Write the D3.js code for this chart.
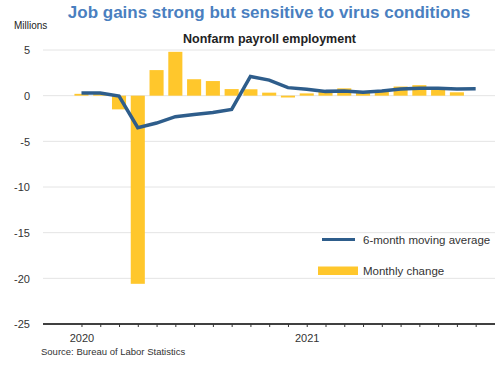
<!DOCTYPE html>
<html>
<head>
<meta charset="utf-8">
<script src="https://cdn.jsdelivr.net/npm/d3@7"></script>
<style>
  html, body { margin: 0; padding: 0; background: #fff; }
  svg { display: block; font-family: "Liberation Sans", Arial, sans-serif; }
</style>
</head>
<body>
<svg id="chart" width="500" height="365"></svg>
<script>
// ---- Data ----
const months = ["2020-01","2020-02","2020-03","2020-04","2020-05","2020-06","2020-07","2020-08","2020-09","2020-10","2020-11","2020-12",
                "2021-01","2021-02","2021-03","2021-04","2021-05","2021-06","2021-07","2021-08","2021-09","2021-10"];
// Monthly change in nonfarm payrolls, millions (Jan 2020 - Sep 2021)
const monthlyChange = [0.2, 0.25, -1.5, -20.6, 2.8, 4.8, 1.8, 1.6, 0.72, 0.7, 0.33, -0.2,
                       0.25, 0.45, 0.8, 0.35, 0.6, 1.0, 1.15, 0.62, 0.37];
// 6-month moving average, millions (Jan 2020 - Oct 2021)
const movingAvg = [0.28, 0.3, -0.05, -3.5, -3.0, -2.3, -2.05, -1.85, -1.5, 2.1, 1.7, 0.88,
                   0.7, 0.47, 0.5, 0.38, 0.5, 0.72, 0.82, 0.8, 0.73, 0.75];
const yTicks = [5, 0, -5, -10, -15, -20, -25];
const xTickLabels = ["2020","","","","","","","","","","","","2021","","","","","","","","",""];

const title = "Job gains strong but sensitive to virus conditions";
const subtitle = "Nonfarm payroll employment";
const unitLabel = "Millions";
const source = "Source: Bureau of Labor Statistics";
const seriesNames = ["6-month moving average", "Monthly change"];

(function () {
// ---- Layout ----
const svg = d3.select("#chart");
const mLeft = 43, mRight = 495, mTop = 50, mBottom = 324;

const x = d3.scaleLinear().domain([-2.05, 22.03]).range([mLeft, mRight]);
const y = d3.scaleLinear().domain([-25, 5]).range([mBottom, mTop]);
const step = x(1) - x(0);
const barW = step * 0.75;

const yellow = "#ffc72c";
const blue = "#2e5d8b";

// Title
svg.append("text").attr("x", 269).attr("y", 18).attr("text-anchor", "middle")
  .attr("font-size", 17).attr("font-weight", "bold").attr("fill", "#4a7fc0").text(title);
svg.append("text").attr("x", 269.5).attr("y", 43).attr("text-anchor", "middle")
  .attr("font-size", 12.5).attr("font-weight", "bold").attr("fill", "#222").text(subtitle);
svg.append("text").attr("x", 14).attr("y", 29).attr("font-size", 10).attr("fill", "#222").text(unitLabel);

// Gridlines + y labels
const yAxis = d3.axisLeft(y).tickValues(yTicks).tickSize(0).tickPadding(0)
  .tickFormat(d => String(d));
const gy = svg.append("g").attr("transform", `translate(30,0)`).call(yAxis);
gy.select(".domain").remove();
gy.selectAll("text").attr("font-size", 11).attr("fill", "#333")
  .attr("font-family", "Liberation Sans, Arial, sans-serif").attr("dy", "0.35em");

svg.append("g").selectAll("line").data(yTicks.filter(d => d !== -25)).join("line")
  .attr("x1", mLeft).attr("x2", mRight)
  .attr("y1", d => y(d)).attr("y2", d => y(d))
  .attr("stroke", "#e4e4e4").attr("stroke-width", 1);

// Bars
svg.append("g").selectAll("rect").data(monthlyChange).join("rect")
  .attr("x", (d, i) => x(i) - barW / 2)
  .attr("width", barW)
  .attr("y", d => y(Math.max(0, d)))
  .attr("height", d => Math.abs(y(d) - y(0)))
  .attr("fill", yellow);

// Line
const line = d3.line().x((d, i) => x(i)).y(d => y(d));
svg.append("path").datum(movingAvg).attr("d", line)
  .attr("fill", "none").attr("stroke", blue).attr("stroke-width", 3.5)
  .attr("stroke-linejoin", "miter");

// X axis
const xAxis = d3.axisBottom(x).tickValues(d3.range(months.length)).tickSize(3)
  .tickFormat((d, i) => xTickLabels[i]).tickSizeOuter(0);
const gx = svg.append("g").attr("transform", `translate(0,${mBottom})`).call(xAxis);
gx.select(".domain").attr("stroke", "#000").attr("stroke-width", 1.5)
  .attr("d", `M${mLeft},0H${mRight}`);
gx.selectAll(".tick line").attr("stroke", "#333");
gx.selectAll("text").attr("font-size", 11).attr("fill", "#333")
  .attr("font-family", "Liberation Sans, Arial, sans-serif").attr("dy", 0).attr("y", 17.5);

// Legend
const lg = svg.append("g");
lg.append("line").attr("x1", 322).attr("x2", 355).attr("y1", 239.5).attr("y2", 239.5)
  .attr("stroke", blue).attr("stroke-width", 3);
lg.append("text").attr("x", 363).attr("y", 244).attr("font-size", 11.5).attr("fill", "#333").text(seriesNames[0]);
lg.append("rect").attr("x", 318).attr("y", 266.5).attr("width", 40).attr("height", 8.5).attr("fill", yellow);
lg.append("text").attr("x", 363).attr("y", 275).attr("font-size", 11.5).attr("fill", "#333").text(seriesNames[1]);

// Source
svg.append("text").attr("x", 41).attr("y", 355).attr("font-size", 9.5).attr("fill", "#333").text(source);
})();
</script>
</body>
</html>
